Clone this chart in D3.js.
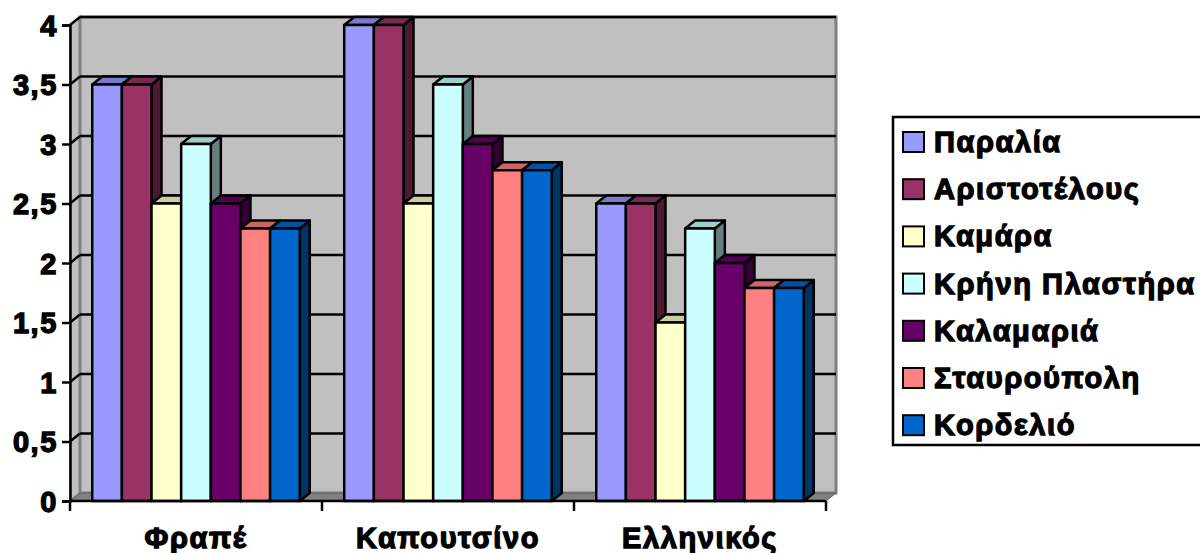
<!DOCTYPE html>
<html>
<head>
<meta charset="utf-8">
<script src="https://cdn.jsdelivr.net/npm/d3@7"></script>
<style>
    body { margin: 0; background: #fff; }
    /* the bold face is not available, so thicken the glyphs with a stroke */
    svg text { font-family: Arial, "Liberation Sans", sans-serif; font-weight: 700;
               fill: #000; stroke: #000; stroke-width: 1.3px; letter-spacing: 1.6px; }
</style>
</head>
<body>
<svg id="svg" width="1200" height="553"></svg>
<script>
// Chart data
var categories = ["Φραπέ", "Καπουτσίνο", "Ελληνικός"];
var seriesNames = ["Παραλία", "Αριστοτέλους", "Καμάρα", "Κρήνη Πλαστήρα", "Καλαμαριά", "Σταυρούπολη", "Κορδελιό"];
var seriesColors = ["#9999FF", "#993366", "#FFFFCC", "#CCFFFF", "#660066", "#FF8080", "#0066CC"];
var values = [
    [3.5, 3.5, 2.5, 3.0, 2.5, 2.29, 2.29],   // Φραπέ
    [4.0, 4.0, 2.5, 3.5, 3.0, 2.78, 2.78],   // Καπουτσίνο
    [2.5, 2.5, 1.5, 2.29, 2.0, 1.79, 1.79]   // Ελληνικός
];
var yTicks = [0, 0.5, 1, 1.5, 2, 2.5, 3, 3.5, 4];

// 3D depth offset
var dx = 10, dy = -8;

var svg = d3.select('#svg');

var x = d3.scaleBand().domain(categories).range([70, 826]).paddingInner(0).paddingOuter(0);
var xs = d3.scaleBand().domain(seriesNames).range([0, x.bandwidth()]).paddingInner(0).paddingOuter(0.75);
var y = d3.scaleLinear().domain([0, 4]).range([501, 25]);
var color = d3.scaleOrdinal(seriesNames, seriesColors);

var x0 = x.range()[0], x1 = x.range()[1];
var yTop = y(4), yBase = y(0);

// Walls and floor
var g = svg.append("g");
// left side wall
g.append("polygon")
    .attr("points", [[x0, yTop], [x0 + dx, yTop + dy], [x0 + dx, yBase + dy], [x0, yBase]].join(" "))
    .attr("fill", "#C0C0C0").attr("stroke", "#808080").attr("stroke-width", 2);
// back wall
g.append("rect")
    .attr("x", x0 + dx).attr("y", yTop + dy)
    .attr("width", x1 - x0).attr("height", yBase - yTop)
    .attr("fill", "#C0C0C0").attr("stroke", "#808080").attr("stroke-width", 3);
// floor
g.append("polygon")
    .attr("points", [[x0, yBase], [x0 + dx, yBase + dy], [x1 + dx, yBase + dy], [x1, yBase]].join(" "))
    .attr("fill", "#808080").attr("stroke", "#606060").attr("stroke-width", 1);

// Gridlines on the walls
yTicks.filter(d => d > 0).forEach(function(t) {
    g.append("line")
        .attr("x1", x0 + dx).attr("x2", x1 + dx)
        .attr("y1", y(t) + dy).attr("y2", y(t) + dy)
        .attr("stroke", "#000").attr("stroke-width", 2.5);
    g.append("line")
        .attr("x1", x0).attr("x2", x0 + dx)
        .attr("y1", y(t)).attr("y2", y(t) + dy)
        .attr("stroke", "#000").attr("stroke-width", 2.5);
});

function shade(c, k)
{
    var r = d3.rgb(c);
    return d3.rgb(r.r * k, r.g * k, r.b * k).formatHex();
}

// Bars, drawn left to right so each bar hides its neighbour's side face
var bars = svg.append("g").attr("stroke", "#000").attr("stroke-width", 2.5).attr("stroke-linejoin", "round");
categories.forEach(function(cat, ci) {
    seriesNames.forEach(function(s, si) {
        var v = values[ci][si];
        var bx = x(cat) + xs(s), bw = xs.bandwidth();
        var by = y(v);
        var c = color(s);
        bars.append("polygon")
            .attr("points", [[bx + bw, by], [bx + bw + dx, by + dy], [bx + bw + dx, yBase + dy], [bx + bw, yBase]].join(" "))
            .attr("fill", shade(c, 0.5));
        bars.append("polygon")
            .attr("points", [[bx, by], [bx + dx, by + dy], [bx + bw + dx, by + dy], [bx + bw, by]].join(" "))
            .attr("fill", shade(c, 0.8));
        bars.append("rect")
            .attr("x", bx).attr("y", by).attr("width", bw).attr("height", yBase - by)
            .attr("fill", c);
    });
});

// Value axis
var yAxis = svg.append("g")
    .attr("transform", `translate(${x0},0)`)
    .call(d3.axisLeft(y).tickValues(yTicks).tickSize(8).tickPadding(4)
        .tickFormat(d => String(d).replace('.', ',')));
yAxis.attr("font-family", null).attr("font-size", null);
yAxis.select(".domain").attr("stroke", "#000").attr("stroke-width", 2.5);
yAxis.selectAll(".tick line").attr("stroke", "#000").attr("stroke-width", 2.5);
yAxis.selectAll(".tick text")
    .style("font-size", "29px")
    .attr("dy", "0.36em");

// Category axis
var xAxis = svg.append("g");
xAxis.append("line")
    .attr("x1", x0).attr("x2", x1).attr("y1", yBase).attr("y2", yBase)
    .attr("stroke", "#000").attr("stroke-width", 2.5);
var bounds = categories.map(c => x(c)).concat([x1]);
xAxis.selectAll("line.tick").data(bounds).join("line")
    .attr("class", "tick")
    .attr("x1", d => d).attr("x2", d => d)
    .attr("y1", yBase).attr("y2", yBase + 10)
    .attr("stroke", "#000").attr("stroke-width", 2.5);
xAxis.selectAll("text").data(categories).join("text")
    .attr("x", d => x(d) + x.bandwidth() / 2)
    .attr("y", 548)
    .attr("text-anchor", "middle")
    .style("font-size", "29px")
    .text(d => d);

// Legend
var legend = svg.append("g");
legend.append("rect")
    .attr("x", 893).attr("y", 117).attr("width", 320).attr("height", 328)
    .attr("fill", "#fff").attr("stroke", "#000").attr("stroke-width", 2.5);
var item = legend.selectAll("g.item").data(seriesNames).join("g")
    .attr("class", "item")
    .attr("transform", (d, i) => `translate(0,${152 + i * 47.2})`);
item.append("rect")
    .attr("x", 903).attr("y", -20).attr("width", 21).attr("height", 20)
    .attr("fill", d => color(d)).attr("stroke", "#000").attr("stroke-width", 2);
item.append("text")
    .attr("x", 934).attr("y", 0)
    .style("font-size", "29px")
    .text(d => d);
</script>
</body>
</html>
